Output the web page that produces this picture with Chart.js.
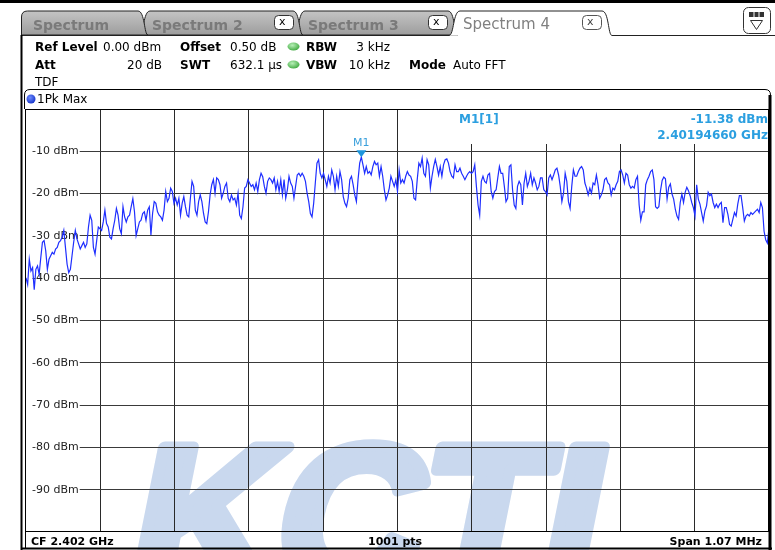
<!DOCTYPE html>
<html><head><meta charset="utf-8">
<script src="https://cdn.jsdelivr.net/npm/chart.js@4.4.1/dist/chart.umd.min.js"></script>
<style>
html,body{margin:0;padding:0;background:#fff;width:775px;height:550px;overflow:hidden;}
#wrap{position:relative;width:775px;height:550px;font-family:"DejaVu Sans",sans-serif;color:#000;}
#c{position:absolute;left:0;top:0;z-index:1;}
svg{position:absolute;left:0;top:0;z-index:2;}
.t{position:absolute;white-space:nowrap;font-size:12px;line-height:14px;z-index:3;}
.b{font-weight:bold;}
.tab{font-size:14px;font-weight:bold;color:#7a7a7a;line-height:16px;}
.mk{color:#2b9fe0;font-weight:bold;}
.ft{font-size:11px;font-weight:bold;}
</style></head>
<body><div id="wrap">
<canvas id="c" width="775" height="550"></canvas>
<svg width="775" height="550" viewBox="0 0 775 550">
 <defs>
  <linearGradient id="tg" x1="0" y1="0" x2="0" y2="1"><stop offset="0" stop-color="#c4c4c4"/><stop offset="1" stop-color="#9d9d9d"/></linearGradient>
  <radialGradient id="gd" cx="0.4" cy="0.35" r="0.7"><stop offset="0" stop-color="#b8f0b8"/><stop offset="1" stop-color="#3ea83e"/></radialGradient>
  <radialGradient id="bd" cx="0.4" cy="0.35" r="0.7"><stop offset="0" stop-color="#6f8dff"/><stop offset="1" stop-color="#1230c8"/></radialGradient>
 </defs>
 <rect x="0" y="0" width="775" height="3" fill="#000"/>
 <path d="M294,35 C299,35 298,11 305,11 L448,11 C455,11 454,35 458,35 Z" fill="url(#tg)" stroke="#222"/>
 <path d="M139,35 C144,35 143,11 150,11 L293,11 C300,11 299,35 303,35 Z" fill="url(#tg)" stroke="#222"/>
 <path d="M21.5,35 L21.5,17 Q21.5,11 27.5,11 L138,11 C145,11 144,35 148,35 Z" fill="url(#tg)" stroke="#222"/>
 <path d="M449,35.5 C454,35.5 453,11 460,11 L602,11 C609,11 608,35.5 612,35.5" fill="#fff" stroke="#222"/>
 <line x1="21" y1="35.5" x2="449" y2="35.5" stroke="#222"/>
 <line x1="612" y1="35.5" x2="775" y2="35.5" stroke="#222"/>
 <rect x="274.5" y="15.5" width="19" height="14" rx="4" fill="#fff" stroke="#333"/>
 <rect x="428.5" y="15.5" width="19" height="14" rx="4" fill="#fff" stroke="#333"/>
 <rect x="582.5" y="15.5" width="19" height="14" rx="4" fill="#fff" stroke="#555"/>
 <rect x="743.5" y="7.5" width="27" height="26" rx="5" fill="#fff" stroke="#333"/>
 <rect x="749" y="12" width="15" height="5" fill="#333"/>
 <line x1="754" y1="12" x2="754" y2="17" stroke="#fff"/>
 <line x1="759" y1="12" x2="759" y2="17" stroke="#fff"/>
 <path d="M750.5,20.5 L762.5,20.5 L756.5,29.5 Z" fill="#fff" stroke="#333"/>
 <ellipse cx="293.5" cy="46.5" rx="6" ry="4" fill="url(#gd)"/>
 <ellipse cx="293.5" cy="64.5" rx="6" ry="4" fill="url(#gd)"/>
 <line x1="21.5" y1="35" x2="21.5" y2="550" stroke="#000" stroke-width="2"/>
 <path d="M24.5,109 V95 Q24.5,89.5 30,89.5 H765 Q770.5,89.5 770.5,95 V109" fill="none" stroke="#000"/>
 <circle cx="31" cy="99" r="4.5" fill="url(#bd)"/>
 <rect x="25.5" y="109.5" width="743" height="422" fill="none" stroke="#000"/>
 <line x1="770" y1="95" x2="770" y2="550" stroke="#000" stroke-width="3"/>
 <line x1="25.5" y1="532" x2="25.5" y2="549" stroke="#000"/>
 <line x1="21" y1="548.5" x2="772" y2="548.5" stroke="#000" stroke-width="2"/>
</svg>
<div class="t tab" style="left:33px;top:17px;">Spectrum</div>
<div class="t tab" style="left:152px;top:17px;">Spectrum 2</div>
<div class="t tab" style="left:308px;top:17px;">Spectrum 3</div>
<div class="t tab" style="left:463px;top:16px;font-weight:normal;font-size:15px;color:#808080;">Spectrum 4</div>
<div class="t" style="left:279px;top:15px;font-size:11px;">x</div>
<div class="t" style="left:433px;top:15px;font-size:11px;">x</div>
<div class="t" style="left:587px;top:15px;font-size:11px;color:#444;">x</div>

<div class="t b" style="left:35px;top:39.5px;">Ref Level</div>
<div class="t" style="left:103px;top:39.5px;">0.00 dBm</div>
<div class="t b" style="left:180px;top:39.5px;">Offset</div>
<div class="t" style="left:230px;top:39.5px;">0.50 dB</div>
<div class="t b" style="left:306px;top:39.5px;">RBW</div>
<div class="t" style="right:385px;top:39.5px;">3 kHz</div>

<div class="t b" style="left:35px;top:58px;">Att</div>
<div class="t" style="right:613px;top:58px;">20 dB</div>
<div class="t b" style="left:180px;top:58px;">SWT</div>
<div class="t" style="left:230px;top:58px;">632.1 µs</div>
<div class="t b" style="left:306px;top:58px;">VBW</div>
<div class="t" style="right:385px;top:58px;">10 kHz</div>
<div class="t b" style="left:409px;top:58px;">Mode</div>
<div class="t" style="left:453px;top:58px;">Auto FFT</div>

<div class="t" style="left:35px;top:75px;">TDF</div>
<div class="t" style="left:37px;top:92px;">1Pk Max</div>

<div class="t mk" style="left:459px;top:112px;">M1[1]</div>
<div class="t mk" style="right:7px;top:111.5px;">-11.38 dBm</div>
<div class="t mk" style="right:7px;top:128px;">2.40194660 GHz</div>

<div class="t ft" style="left:31px;top:535px;">CF 2.402 GHz</div>
<div class="t ft" style="left:368px;top:535px;">1001 pts</div>
<div class="t ft" style="right:13px;top:535px;">Span 1.07 MHz</div>
</div>
<script>
// ---- data (dBm) ----
const levelsSeg1 = [-39.9,-41.5,-35.5,-38.3,-37.5,-42.7,-37.9,-37.1,-39.1,-35.1,-31.5,-31.1,-33.5,-37.9,-35.5,-34.7,-33.9,-34.3,-33.1,-32.7,-31.5,-31.1,-30.3,-28.7,-32.7,-36.7,-38.7,-37.9,-34.7,-31.5,-28.7,-30.7,-31.9,-33.1,-32.3,-31.5,-32.7,-31.9,-27.9,-25.1,-26.3,-32.7,-34.3,-31.1,-27.9,-28.3,-28.7,-26.7,-23.9,-27.1,-27.9,-30.3,-30.7,-28.3,-26.3,-23.5,-25.1,-28.3,-29.5,-23.1,-25.5,-26.7,-25.5,-25.1,-23.1,-21.2,-24.3,-29.9,-28.3,-26.7,-26.3,-24.7,-24.3,-26.3,-23.9,-23.1];
const levelsSeg2 = [-29.8,-24.7,-21.9,-22.3,-24.3,-25.1,-25.5,-26.3,-23.9,-19.5,-21.9,-21.1,-18.7,-19.5,-22.3,-21.1,-22.7,-21.1,-25.1,-22.3,-20.7,-23.1,-25.1,-25.5,-21.1,-17.1,-18.3,-23.9,-25.1,-21.9,-20.3,-21.9,-24.7,-26.7,-27.1,-24.3,-20.3,-17.9,-16.7,-19.9,-16.3,-16.7,-17.9,-21.1,-19.9,-18.3,-17.5,-21.1,-21.9,-20.3,-21.5,-21.1,-22.7,-19.9,-25.1,-25.9,-23.1,-18.7,-18.3,-16.7,-17.5,-18.3,-17.9,-19.1,-17.5,-19.5,-16.7,-15.2,-16.0,-18.3,-19.9,-17.1,-16.3,-16.7,-17.5,-16.3];
const levelsSeg3 = [-19.1,-17.1,-19.5,-16.7,-20.3,-16.7,-21.1,-19.1,-15.9,-17.5,-18.3,-21.1,-18.3,-15.6,-15.2,-15.9,-15.2,-15.9,-17.1,-19.9,-21.9,-24.7,-25.5,-22.3,-17.5,-12.8,-12.0,-15.2,-16.3,-15.2,-16.7,-18.3,-15.9,-17.5,-14.4,-15.9,-19.1,-15.9,-18.3,-14.8,-16.7,-20.7,-22.3,-23.1,-21.1,-16.7,-15.9,-17.9,-20.3,-21.9,-16.7,-12.8,-11.38,-13.2,-15.2,-13.6,-15.2,-14.8,-15.6,-13.6,-12.4,-13.2,-12.8,-15.9,-13.6,-15.9,-19.1,-21.5,-20.3,-18.7,-15.9,-17.1,-18.3,-16.7,-19.5];
const levelsSeg4 = [-14.4,-17.5,-16.7,-17.5,-15.9,-14.8,-15.6,-15.9,-17.1,-21.1,-21.5,-16.7,-12.8,-13.6,-11.6,-15.2,-15.9,-12.0,-13.2,-18.7,-15.9,-13.6,-11.9,-13.6,-15.6,-13.6,-15.9,-13.2,-12.0,-11.8,-12.8,-14.8,-15.9,-16.3,-13.2,-14.8,-14.8,-14.0,-15.2,-15.9,-16.7,-15.9,-15.2,-14.8,-15.2,-14.8,-13.2,-18.3,-22.7,-25.1,-17.1,-15.9,-17.1,-17.5,-15.6,-15.2,-19.5,-21.1,-19.5,-19.1,-16.3,-13.6,-15.2,-15.2,-18.3,-21.9,-21.1,-13.6,-13.2,-19.1,-22.7,-23.5,-18.3,-17.1,-17.9];
const levelsSeg5 = [-22.7,-17.5,-15.2,-18.3,-17.1,-15.2,-17.9,-16.3,-17.5,-19.1,-18.3,-16.3,-16.3,-19.1,-19.5,-20.3,-16.3,-15.6,-16.7,-15.6,-14.4,-14.0,-15.6,-18.3,-21.9,-19.9,-15.2,-17.1,-21.9,-23.5,-18.3,-14.4,-15.9,-15.9,-14.8,-14.0,-13.6,-14.4,-17.5,-18.7,-20.3,-18.7,-19.9,-17.5,-17.9,-15.6,-17.9,-21.1,-20.3,-19.1,-16.7,-16.3,-17.5,-17.9,-20.3,-18.7,-19.1,-17.9,-17.1,-14.8,-14.4,-15.6,-17.5,-15.2,-15.6,-17.9,-18.7,-18.3,-18.7,-16.7,-15.9,-22.7,-26.3,-24.3,-24.3];
const levelsSeg6 = [-17.9,-16.7,-15.9,-14.8,-14.4,-16.7,-23.1,-23.5,-23.1,-19.3,-16.9,-16.1,-16.5,-21.3,-18.5,-17.7,-20.1,-21.3,-23.7,-25.3,-26.1,-22.1,-20.1,-22.1,-19.7,-18.5,-19.3,-20.5,-22.1,-23.3,-25.3,-17.9,-21.3,-22.5,-24.5,-26.5,-24.1,-22.9,-19.7,-20.5,-20.1,-22.1,-23.3,-22.5,-23.3,-22.5,-22.1,-26.9,-23.3,-23.3,-24.9,-27.3,-27.7,-26.1,-24.5,-25.3,-22.5,-20.5,-20.5,-23.3,-26.5,-25.3,-24.9,-25.3,-24.5,-24.9,-24.5,-24.1,-23.7,-24.5,-22.1,-23.3,-28.9,-30.9,-31.7,-28.1];

const centerMHz = 2402.0;
const spanMHz = 1.07;
const yTickValues = [-10,-20,-30,-40,-50,-60,-70,-80,-90];
const yTickLabels = ['-10 dBm','-20 dBm','-30 dBm','-40 dBm','-50 dBm','-60 dBm','-70 dBm','-80 dBm','-90 dBm'];
const refLevel = 0, bottomLevel = -100;
const xDivisions = 10;
const markerLabel = 'M1';
const watermarkText = 'KCTI';

// ---- build ----
const levels = [].concat(levelsSeg1, levelsSeg2, levelsSeg3, levelsSeg4, levelsSeg5, levelsSeg6);
const fStart = centerMHz - spanMHz/2, fStop = centerMHz + spanMHz/2;
const points = levels.map((v,i)=>({x: fStart + i*spanMHz/(levels.length-1), y: v}));
const xGrid = [];
for (let k=1;k<xDivisions;k++) xGrid.push(fStart + k*spanMHz/xDivisions);

const watermark = {
  id:'watermark',
  beforeDraw(chart){
    const ctx = chart.ctx;
    ctx.save();
    ctx.fillStyle = '#c9d8ee'; ctx.strokeStyle = '#c9d8ee';
    ctx.lineWidth = 12; ctx.lineJoin = 'round';
    ctx.font = 'bold 200px "Liberation Sans", Arial, sans-serif';
    const by = 585;
    ctx.transform(1,0,-0.2,1,0.2*by,0);
    ctx.fillText(watermarkText, 123, by);
    ctx.strokeText(watermarkText, 123, by);
    ctx.restore();
  }
};
const markerBox = {
  id:'markerBox',
  beforeDatasetsDraw(chart){
    const {ctx, chartArea:a} = chart;
    ctx.save(); ctx.fillStyle = '#fff';
    ctx.fillRect(450, a.top+1, a.right-451, 143-a.top);
    ctx.restore();
  },
  afterDatasetsDraw(chart){
    const meta = chart.getDatasetMeta(0);
    let mi = 0; levels.forEach((v,i)=>{ if (v > levels[mi]) mi = i; });
    const p = meta.data[mi];
    const ctx = chart.ctx;
    ctx.save();
    ctx.fillStyle = '#1e96dc';
    ctx.beginPath(); ctx.moveTo(p.x-5, p.y-7); ctx.lineTo(p.x+5, p.y-7); ctx.lineTo(p.x, p.y); ctx.closePath(); ctx.fill();
    ctx.font = '11px "DejaVu Sans"'; ctx.textAlign = 'center'; ctx.fillStyle = '#3aa0dc';
    ctx.fillText(markerLabel, p.x, p.y-11);
    ctx.restore();
  }
};

new Chart(document.getElementById('c'), {
  type:'line',
  data:{datasets:[{data:points, borderColor:'rgb(30,46,255)', borderWidth:1.2, pointRadius:0, tension:0, fill:false}]},
  options:{
    responsive:false, animation:false, devicePixelRatio:1,
    layout:{padding:{left:26, top:109, right:6, bottom:18}},
    plugins:{legend:{display:false}, tooltip:{enabled:false}},
    scales:{
      x:{type:'linear', min:fStart, max:fStop,
         afterBuildTicks:s=>{ s.ticks = xGrid.map(v=>({value:v})); },
         afterFit:s=>{ s.height = 0; s.paddingLeft = 0; s.paddingRight = 0; },
         ticks:{display:false}, grid:{drawTicks:false, color:'#2a2a2a', lineWidth:1}, border:{display:false}},
      y:{type:'linear', min:bottomLevel, max:refLevel,
         afterBuildTicks:s=>{ s.ticks = yTickValues.map(v=>({value:v})); },
         afterFit:s=>{ s.width = 0; s.paddingTop = 0; s.paddingBottom = 0; },
         ticks:{mirror:true, padding:6, color:'#222', font:{family:'DejaVu Sans', size:11},
                callback:(v,i)=>yTickLabels[i], showLabelBackdrop:true, backdropColor:'#fff',
                backdropPadding:{left:6,right:1,top:1,bottom:1}},
         grid:{drawTicks:false, color:'#3a3a3a', lineWidth:1}, border:{display:false}}
    }
  },
  plugins:[watermark, markerBox]
});
</script>
</body></html>
